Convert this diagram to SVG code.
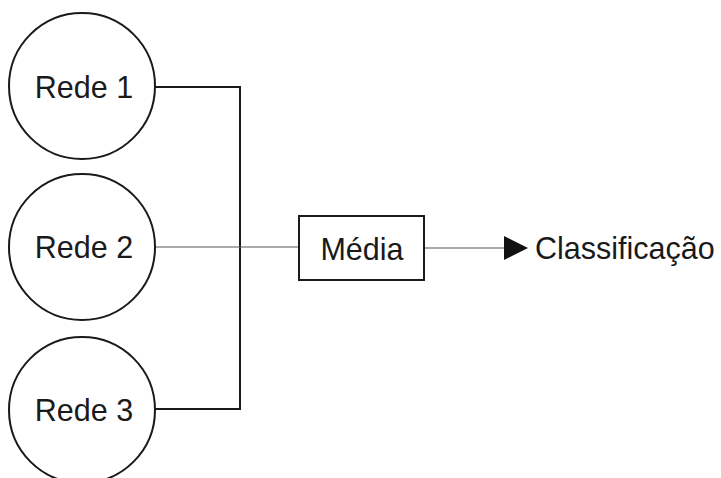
<svg xmlns="http://www.w3.org/2000/svg" width="721" height="478" viewBox="0 0 721 478">
  <style>
    .node { fill: #ffffff; stroke: #1a1a1a; stroke-width: 2; }
    .label { font-family: "Liberation Sans", Arial, sans-serif; font-size: 30.5px; fill: #1a1a1a; }
    .bold-wire { fill: none; stroke: #1a1a1a; stroke-width: 2; }
    .thin-wire { fill: none; stroke: #555555; stroke-width: 1.2; }
  </style>
  <defs>
    <marker id="arrow" viewBox="0 0 24 24" refX="0" refY="12" markerWidth="24" markerHeight="24" markerUnits="userSpaceOnUse" orient="auto">
      <path d="M0,0 L24,12 L0,24 Z" fill="#111111"/>
    </marker>
  </defs>
  <rect width="721" height="478" fill="#ffffff"/>

  <g id="connectors">
    <polyline class="bold-wire" points="155,87 240,87 240,409 155,409"/>
    <line class="thin-wire" x1="155" y1="247" x2="299" y2="247"/>
    <line class="thin-wire" x1="424" y1="248" x2="504" y2="248" marker-end="url(#arrow)"/>
  </g>

  <g id="rede1">
    <circle class="node" cx="82" cy="86" r="73"/>
    <text class="label" x="84" y="98" text-anchor="middle">Rede 1</text>
  </g>
  <g id="rede2">
    <circle class="node" cx="82" cy="247" r="73"/>
    <text class="label" x="84" y="258" text-anchor="middle">Rede 2</text>
  </g>
  <g id="rede3">
    <circle class="node" cx="82" cy="410" r="73"/>
    <text class="label" x="84" y="421" text-anchor="middle">Rede 3</text>
  </g>
  <g id="media">
    <rect class="node" x="299" y="216" width="125" height="64"/>
    <text class="label" x="362" y="260" text-anchor="middle">Média</text>
  </g>
  <g id="classificacao">
    <text class="label" x="535" y="259">Classificação</text>
  </g>
</svg>
